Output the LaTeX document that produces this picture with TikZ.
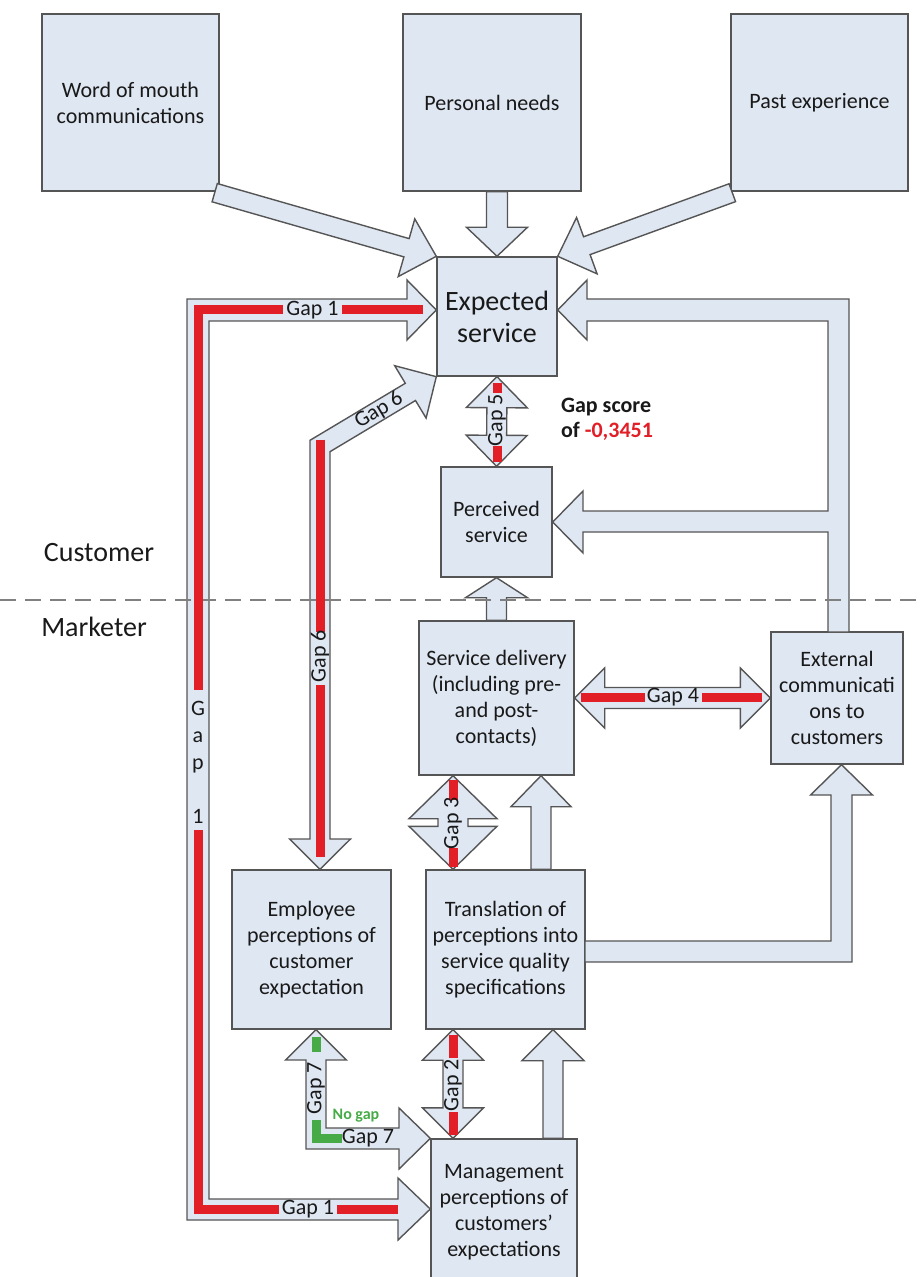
\documentclass[tikz,border=0pt]{standalone}
\usepackage{fontspec}
\setmainfont{Carlito}
\usetikzlibrary{calc,positioning}

\definecolor{boxfill}{RGB}{223,231,242}
\definecolor{edge}{RGB}{85,85,85}
\definecolor{ink}{RGB}{25,25,25}
\definecolor{gapred}{RGB}{226,30,38}
\definecolor{gapgreen}{RGB}{70,170,70}
\definecolor{linegray}{RGB}{128,128,128}

\tikzset{
  box/.style={draw=edge, fill=boxfill, line width=0.7pt, align=center, inner sep=0pt,
    font=\fontsize{11}{13}\selectfont},
  blk/.style={draw=edge, fill=boxfill, line width=0.7pt, line join=miter},
  gapbar/.style={draw=gapred, line width=4.5pt, line join=miter},
  okbar/.style={draw=gapgreen, line width=4.5pt, line join=miter},
  gaplbl/.style={inner sep=0.5pt, font=\fontsize{11}{13}\selectfont},
}

% block arrow: from, to, half shaft, half head, head length
\newcommand{\blkarrow}[5]{%
  \path ($(#2)!#5!(#1)$) coordinate (hb);
  \draw[blk] ($(#1)!#3!90:(#2)$) -- ($(hb)!#3!-90:(#1)$) -- ($(hb)!#4!-90:(#1)$) -- (#2)
    -- ($(hb)!#4!90:(#1)$) -- ($(hb)!#3!90:(#1)$) -- ($(#1)!#3!-90:(#2)$) -- cycle;
}
% same, with a head at both ends
\newcommand{\dblarrow}[5]{%
  \path ($(#1)!#5!(#2)$) coordinate (ha) ($(#2)!#5!(#1)$) coordinate (hb);
  \draw[blk] (#1) -- ($(ha)!#4!90:(#2)$) -- ($(ha)!#3!90:(#2)$)
    -- ($(hb)!#3!-90:(#1)$) -- ($(hb)!#4!-90:(#1)$) -- (#2)
    -- ($(hb)!#4!90:(#1)$) -- ($(hb)!#3!90:(#1)$)
    -- ($(ha)!#3!-90:(#2)$) -- ($(ha)!#4!-90:(#2)$) -- cycle;
}

\begin{document}
\begin{tikzpicture}[x=0.5pt, y=-0.5pt, every node/.style={text=ink}]
\useasboundingbox (0,0) rectangle (922,1277);

\node[box, minimum width=88.5pt, minimum height=88.5pt] (wom) at (130.5,102.5) {Word of mouth\\communications};
\node[box, minimum width=89pt, minimum height=88.5pt] (pn) at (492,102.5) {Personal needs};
\node[box, minimum width=88.5pt, minimum height=88.5pt] (pe) at (819.5,102.5) {Past experience};
\node[box, minimum width=60pt, minimum height=59.5pt, font=\fontsize{14}{16}\selectfont] (exp) at (497,316.5) {Expected\\service};
\node[box, minimum width=55.5pt, minimum height=55pt] (per) at (496.5,522) {Perceived\\service};
\node[box, minimum width=77.5pt, minimum height=77pt] (sd) at (496.5,698) {Service delivery\\(including pre-\\and post-\\contacts)};
\node[box, minimum width=66pt, minimum height=66pt] (ext) at (837,698) {External\\communicati\\ons to\\customers};
\node[box, minimum width=79.5pt, minimum height=79.5pt] (emp) at (311.5,949.5) {Employee\\perceptions of\\customer\\expectation};
\node[box, minimum width=79.5pt, minimum height=79.5pt] (tr) at (505.5,949.5) {Translation of\\perceptions into\\service quality\\specifications};
\node[box, minimum width=73pt, minimum height=73pt] (mgt) at (504,1212) {Management\\perceptions of\\customers'\\expectations};

\node[font=\fontsize{14}{16}\selectfont] (cust) at (99,553) {Customer};
\node[font=\fontsize{14}{16}\selectfont] (mark) at (94,627) {Marketer};
\node[anchor=west, align=left, font=\bfseries\fontsize{11}{12.5}\selectfont] (score) at (554,419.5) {Gap score\\of \textcolor{gapred}{-0,3451}};

% ends of the arrows
\coordinate (womout) at ($(wom.south east)+(-5,1)$);
\coordinate (peout) at ($(pe.south west)+(2,1)$);
\coordinate (pnout) at ($(pn.south)+(5,0)$);
\coordinate (g3a) at ($(sd.south)+(-43.5,0)$);
\coordinate (g3b) at ($(tr.north)+(-52.5,0)$);
\coordinate (trout) at ($(tr.north)+(35.5,0)$);
\coordinate (sdin) at ($(sd.south)+(44.5,0)$);
\coordinate (g2a) at ($(tr.south)+(-52.5,0)$);
\coordinate (g2b) at ($(mgt.north)+(-51,0)$);
\coordinate (mgtout) at ($(mgt.north)+(49,0)$);
\coordinate (trin) at ($(tr.south)+(47.5,0)$);
\coordinate (g1top) at ($(exp.west)+(0,-6.5)$);
\coordinate (g1bot) at ($(mgt.west)+(0,-3)$);
\coordinate (g6top) at (exp.south west);
\coordinate (g6bot) at ($(emp.north)+(8.5,0)$);
\coordinate (g7top) at ($(emp.south)+(4.5,0)$);
\coordinate (g7bot) at (mgt.north west);
\coordinate (expin) at ($(exp.east)+(0,-6.5)$);
\coordinate (perin) at (per.east);
\coordinate (extin) at ($(ext.south)+(4.5,0)$);

\blkarrow{womout}{exp.north west}{4.75pt}{15pt}{15.5pt}
\blkarrow{pnout}{exp.north}{5.25pt}{15.25pt}{14.5pt}
\blkarrow{peout}{exp.north east}{4.75pt}{15pt}{15.5pt}
\dblarrow{exp.south}{per.north}{5pt}{15.25pt}{15.5pt}
\blkarrow{sd.north}{per.south}{5pt}{15.5pt}{10pt}
\dblarrow{sd.east}{ext.west}{5.25pt}{15pt}{15pt}
\dblarrow{g3a}{g3b}{7.5pt}{22pt}{21.5pt}
\blkarrow{trout}{sdin}{5pt}{15pt}{15.5pt}
\dblarrow{g2a}{g2b}{5pt}{15.25pt}{15.25pt}
\blkarrow{mgtout}{trin}{5pt}{15.5pt}{15.5pt}

% bent arrows
\draw[blk] (g1top) -- (407,280) -- (407,299) -- (187,299) -- (187,1220) -- (398,1220) -- (398,1240) -- (g1bot)
  -- (398,1178) -- (398,1199) -- (209,1199) -- (209,321) -- (407,321) -- (407,340) -- cycle;
\draw[blk] (g6bot) -- (350.5,839) -- (330,839) -- (330,451.7) -- (415.5,400.5) -- (426.1,418.1) -- (g6top)
  -- (394.7,365.7) -- (405.3,383.3) -- (310,440.3) -- (310,839) -- (289.5,839) -- cycle;
\draw[blk] (g7top) -- (346.5,1060) -- (326,1060) -- (326,1128) -- (399,1128) -- (399,1108) -- (g7bot)
  -- (399,1169) -- (399,1149) -- (306,1149) -- (306,1060) -- (285.5,1060) -- cycle;
\draw[blk] (828,632) -- (828,532) -- (583,532) -- (583,553) -- (perin) -- (583,491) -- (583,511) -- (828,511)
  -- (828,321) -- (587,321) -- (587,340) -- (expin) -- (587,280) -- (587,299) -- (849,299) -- (849,632) -- cycle;
\draw[blk] (585,941) -- (831,941) -- (831,795) -- (810.5,795) -- (extin) -- (872.5,795) -- (852,795)
  -- (852,962) -- (585,962) -- cycle;

\draw[linegray, line width=1pt, dash pattern=on 8pt off 4.5pt] (0,600) -- (922,600);

% gaps
\draw[gapbar] (423,310) -- (342,310);
\draw[gapbar] (283,310) -- (198,310) -- (198,690);
\draw[gapbar] (198,830) -- (198,1209.5) -- (279,1209.5);
\draw[gapbar] (337,1209.5) -- (398,1209.5);
\draw[gapbar] (320,440) -- (320,632);
\draw[gapbar] (320,685) -- (320,857);
\draw[gapbar] (497,383) -- (497,393);
\draw[gapbar] (497,446) -- (497,462);
\draw[gapbar] (581,697.5) -- (645,697.5);
\draw[gapbar] (702,697.5) -- (762,697.5);
\draw[gapbar] (453,780) -- (453,800);
\draw[gapbar] (453,848) -- (453,867);
\draw[gapbar] (453,1035) -- (453,1058);
\draw[gapbar] (453,1112) -- (453,1135);
\draw[okbar] (316,1037) -- (316,1052);
\draw[okbar] (316,1120) -- (316,1138.5) -- (342,1138.5);

\node[gaplbl] (g1a) at (312.5,310) {Gap 1};
\node[gaplbl] (g1b) at (308,1209.5) {Gap 1};
\node[gaplbl, align=center, font=\fontsize{11}{13.5}\selectfont] (g1c) at (198,762) {G\\a\\p\\[13.5pt]1};
\node[gaplbl, rotate=90] (g6a) at (320,656) {Gap 6};
\node[gaplbl, rotate=31] (g6b) at (379,410.5) {Gap 6};
\node[gaplbl, rotate=90] (g5) at (497,420) {Gap 5};
\node[gaplbl] (g4) at (673,697.5) {Gap 4};
\node[gaplbl, rotate=90] (g3) at (453,823) {Gap 3};
\node[gaplbl, rotate=90] (g2) at (453,1085) {Gap 2};
\node[gaplbl, rotate=90] (g7a) at (316,1088) {Gap 7};
\node[gaplbl] (g7b) at (368,1138.5) {Gap 7};
\node[inner sep=0pt, text=gapgreen, font=\bfseries\fontsize{8}{9}\selectfont] (nogap) at (356,1116) {No gap};
\end{tikzpicture}
\end{document}
